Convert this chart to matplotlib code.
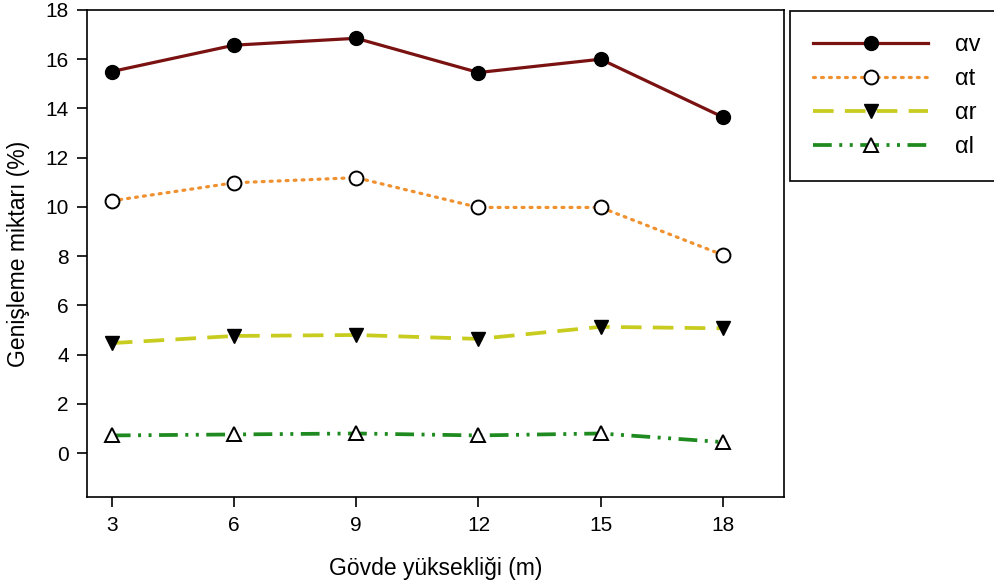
import numpy as np
import matplotlib
matplotlib.use("Agg")
import matplotlib.pyplot as plt

plt.rcParams['font.family'] = ['Liberation Sans', 'DejaVu Sans']

# gövde yüksekliği (m)
heights = [3, 6, 9, 12, 15, 18]

# genişleme miktarı (%)
alpha_v = [15.5, 16.57, 16.85, 15.46, 16.0, 13.65]
alpha_t = [10.25, 10.98, 11.19, 9.98, 9.98, 8.05]
alpha_r = [4.47, 4.76, 4.8, 4.64, 5.13, 5.07]
alpha_l = [0.72, 0.76, 0.8, 0.72, 0.8, 0.45]

labels = ["αv", "αt", "αr", "αl"]

fig = plt.figure(figsize=(9.95, 5.87), dpi=100)
ax = fig.add_axes([0.0874, 0.1525, 0.7005, 0.8305])

lw = 2.3
ms = 10
ax.plot(heights, alpha_v, color='#7a1212', lw=lw, ls='-',
        marker='o', ms=ms, mfc='black', mec='black', label=labels[0])
ax.plot(heights, alpha_t, color='#f0902e', lw=lw, ls=(0, (0.6, 1.9)),
        dash_capstyle='round', marker='o', ms=ms, mfc='white', mec='black',
        mew=1.4, label=labels[1])
ax.plot(heights, alpha_r, color='#c8cc1e', lw=lw + 0.4, ls=(0, (5.5, 3.0)),
        marker='v', ms=ms, mfc='black', mec='black', label=labels[2])
ax.plot(heights, alpha_l, color='#1f8a1f', lw=lw + 0.4, ls=(0, (5, 2, 0.8, 2, 0.8, 2)),
        marker='^', ms=ms, mfc='white', mec='black', mew=1.4, label=labels[3])

ax.set_xlim(2.39, 19.5)
ax.set_ylim(-1.8, 18)
ax.set_xticks(heights)
ax.set_yticks(np.arange(0, 19, 2))
ax.tick_params(direction='out', length=7, width=1.2, labelsize=15, pad=6)
for s in ax.spines.values():
    s.set_linewidth(1.2)

ax.set_xlabel("Gövde yüksekliği (m)", fontsize=16.5, labelpad=16)
ax.set_ylabel("Genişleme miktarı (%)", fontsize=16.5, labelpad=11)

leg = fig.legend(loc='upper left', bbox_to_anchor=(790 / 995, 1 - 11 / 587),
                 fontsize=17, numpoints=1, handlelength=4.85, handletextpad=1.15,
                 labelspacing=0.5, borderpad=0.99, borderaxespad=0,
                 fancybox=False, framealpha=1, edgecolor='black')
leg.get_frame().set_linewidth(1.2)

fig.savefig("out.png", dpi=100)
